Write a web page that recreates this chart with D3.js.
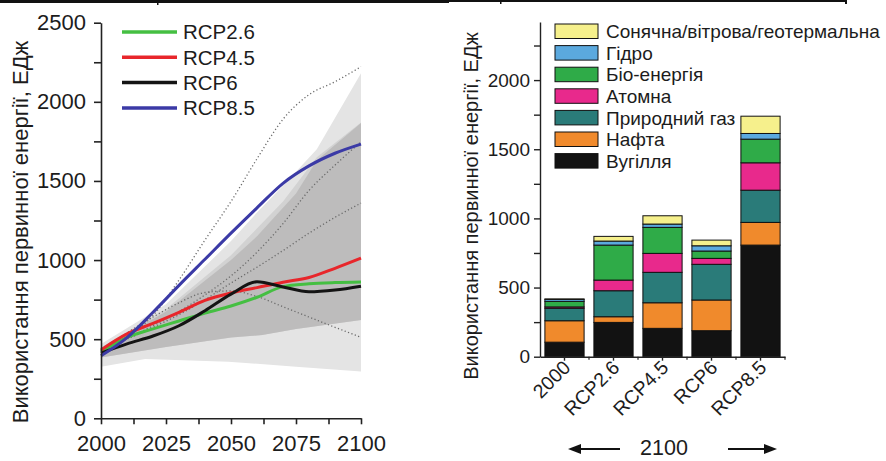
<!DOCTYPE html>
<html>
<head>
<meta charset="utf-8">
<script src="https://cdn.jsdelivr.net/npm/d3@7/dist/d3.min.js"></script>
<style>
  html, body { margin: 0; padding: 0; background: #ffffff; }
  svg { display: block; }
  text { font-family: "Liberation Sans", Arial, Helvetica, sans-serif; fill: #1c1c1c; }
</style>
</head>
<body>
<svg id="chart" width="886" height="461"></svg>
<script>
// ---------- Data: left panel (primary energy, EJ) ----------
const years = [2000, 2010, 2020, 2030, 2040, 2050, 2060, 2070, 2080, 2090, 2100];
const rcp26 = [420, 512, 565, 615, 665, 710, 765, 832, 850, 858, 862];
const rcp45 = [432, 533, 600, 670, 745, 792, 826, 860, 890, 948, 1012];
const rcp6  = [412, 470, 520, 585, 680, 785, 863, 830, 800, 811, 835];
const rcp85 = [395, 510, 670, 840, 1005, 1170, 1330, 1485, 1595, 1675, 1733];
const scenarioNames = ["RCP2.6", "RCP4.5", "RCP6", "RCP8.5"];
const scenarioColors = ["#45bf42", "#e8262b", "#141414", "#3b3aa6"];

// shaded ranges (year, value)
const lightUpperYears = [2000, 2025, 2050, 2060, 2070, 2083, 2100];
const lightUpper      = [470, 720, 1120, 1300, 1470, 1700, 2180];
const lightLowerYears = [2000, 2017, 2049, 2075, 2100];
const lightLower      = [326, 375, 358, 326, 295];
const midUpperYears   = [2000, 2025, 2050, 2070, 2083, 2100];
const midUpper        = [448, 690, 1030, 1370, 1650, 1870];
const darkUpperYears  = [2000, 2025, 2050, 2060, 2075, 2083, 2100];
const darkUpper       = [440, 675, 1000, 1150, 1420, 1630, 1866];
const darkLowerYears  = [2000, 2025, 2050, 2062, 2075, 2100];
const darkLower       = [385, 450, 510, 526, 565, 621];

// dotted reference pathways
const dotYears = [2000, 2010, 2020, 2030, 2040, 2050, 2060, 2070, 2080, 2090, 2100];
const dotted1 = [445, 516, 650, 874, 1127, 1370, 1640, 1890, 2045, 2127, 2222];
const dotted2 = [430, 505, 585, 675, 780, 900, 1050, 1230, 1440, 1600, 1748];
const dotted3 = [430, 500, 575, 655, 750, 855, 955, 1060, 1170, 1270, 1360];
const dotted4 = [430, 540, 640, 730, 795, 805, 770, 705, 640, 575, 512];

const leftXTicks = [2000, 2012.5, 2025, 2037.5, 2050, 2062.5, 2075, 2087.5, 2100];
const leftYTicks = [0, 250, 500, 750, 1000, 1250, 1500, 1750, 2000, 2250, 2500];

// ---------- Data: right panel (stacked bars) ----------
const barCategories = ["2000", "RCP2.6", "RCP4.5", "RCP6", "RCP8.5"];
const sourceNames = ["Вугілля", "Нафта", "Природний газ", "Атомна", "Біо-енергія", "Гідро", "Сонячна/вітрова/геотермальна"];
const sourceColors = ["#121212", "#f08a2c", "#2a7b79", "#e8298c", "#2fab48", "#5ba9de", "#f6f08c"];
const coal     = [105, 248, 205, 188, 807];
const oil      = [155, 41, 185, 222, 164];
const gas      = [90, 188, 220, 258, 233];
const nuclear  = [10, 77, 137, 43, 198];
const bio      = [40, 253, 188, 53, 171];
const hydro    = [14, 29, 24, 38, 41];
const solar    = [4, 34, 60, 41, 125];
const rightYTicks = [0, 250, 500, 750, 1000, 1250, 1500, 1750, 2000, 2250];

const yTitle = "Використання первинної енергії, ЕДж";

const svg = d3.select("#chart");

// ---------- border lines at top ----------
const border = svg.append("g").attr("fill", "#111");
border.append("rect").attr("x", 0).attr("y", 0).attr("width", 449).attr("height", 3);
border.append("rect").attr("x", 449).attr("y", 0).attr("width", 398).attr("height", 2);
border.append("rect").attr("x", 845).attr("y", 0).attr("width", 2).attr("height", 4);
border.append("rect").attr("x", 157).attr("y", 0).attr("width", 1.5).attr("height", 5);
border.append("rect").attr("x", 500).attr("y", 0).attr("width", 1.5).attr("height", 4);

// ================= LEFT PANEL =================
const xL = d3.scaleLinear().domain([2000, 2100]).range([101, 361]);
const yL = d3.scaleLinear().domain([0, 2500]).range([418.3, 22.7]);

function band(upYears, up, loYears, lo) {
  const pts = upYears.map((yr, i) => [xL(yr), yL(up[i])]);
  const low = loYears.map((yr, i) => [xL(yr), yL(lo[i])]).reverse();
  return d3.line()(pts.concat(low)) + "Z";
}
const left = svg.append("g");
left.append("path").attr("d", band(lightUpperYears, lightUpper, lightLowerYears, lightLower)).attr("fill", "#e4e4e4");
left.append("path").attr("d", band(midUpperYears, midUpper, darkLowerYears, darkLower)).attr("fill", "#d2d2d2");
left.append("path").attr("d", band(darkUpperYears, darkUpper, darkLowerYears, darkLower)).attr("fill", "#bdbcbc");

const lineGen = d3.line().x((d, i) => xL(years[i])).y(d => yL(d)).curve(d3.curveMonotoneX);
const dotGen = d3.line().x((d, i) => xL(dotYears[i])).y(d => yL(d)).curve(d3.curveMonotoneX);
[dotted1, dotted2, dotted3, dotted4].forEach(s => {
  left.append("path").attr("d", dotGen(s)).attr("fill", "none")
    .attr("stroke", "#6a6a6a").attr("stroke-width", 1.3).attr("stroke-dasharray", "1.2,2.4");
});

[rcp26, rcp45, rcp6, rcp85].forEach((s, k) => {
  left.append("path").attr("d", lineGen(s)).attr("fill", "none")
    .attr("stroke", scenarioColors[k]).attr("stroke-width", 3).attr("stroke-linejoin", "round");
});

// axes
const axBL = left.append("g").attr("transform", `translate(0,${yL(0)})`)
  .call(d3.axisBottom(xL).tickValues(leftXTicks).tickSize(6).tickSizeOuter(0)
    .tickFormat(d => (d % 25 === 0 ? d : "")));
const axLL = left.append("g").attr("transform", `translate(${xL(2000)},0)`)
  .call(d3.axisLeft(yL).tickValues(leftYTicks).tickSize(7).tickSizeOuter(0).tickPadding(8)
    .tickFormat(d => (d % 500 === 0 ? d : "")));
[axBL, axLL].forEach(a => {
  a.selectAll("path, line").attr("stroke", "#222").attr("stroke-width", 1.6);
  a.selectAll("text").style("font-size", "22px").attr("fill", "#1c1c1c");
});
axBL.selectAll("text").attr("dy", "1.1em");

left.append("text").attr("transform", "translate(20,232) rotate(-90)")
  .attr("text-anchor", "middle").attr("dy", "0.35em").style("font-size", "22px").text(yTitle);

// legend
const legL = left.append("g");
scenarioNames.forEach((n, i) => {
  const yy = 32 + i * 25.3;
  legL.append("line").attr("x1", 122).attr("x2", 177).attr("y1", yy).attr("y2", yy)
    .attr("stroke", scenarioColors[i]).attr("stroke-width", 3.5);
  legL.append("text").attr("x", 183).attr("y", yy).attr("dy", "0.36em")
    .style("font-size", "20.5px").text(n);
});

// ================= RIGHT PANEL =================
const xR = d3.scaleBand().domain(barCategories).range([540, 785]).paddingInner(0.2).paddingOuter(0.1);
const yR = d3.scaleLinear().domain([0, 2420]).range([356.7, 22]);

const seriesArrays = [coal, oil, gas, nuclear, bio, hydro, solar];
const table = barCategories.map((c, i) => {
  const o = { cat: c };
  sourceNames.forEach((s, k) => { o[s] = seriesArrays[k][i]; });
  return o;
});
const stacked = d3.stack().keys(sourceNames)(table);

const right = svg.append("g");
stacked.forEach((layer, k) => {
  right.append("g").attr("fill", sourceColors[k])
    .selectAll("rect").data(layer).join("rect")
    .attr("x", d => xR(d.data.cat))
    .attr("width", xR.bandwidth())
    .attr("y", d => yR(d[1]))
    .attr("height", d => yR(d[0]) - yR(d[1]))
    .attr("stroke", "#111").attr("stroke-width", 1);
});

const axBR = right.append("g").attr("transform", `translate(0,${yR(0)})`)
  .call(d3.axisBottom(xR).tickSize(4).tickSizeOuter(0).tickPadding(2));
axBR.selectAll("path, line").attr("stroke", "#222").attr("stroke-width", 1.4);
axBR.selectAll("text").style("font-size", "19.5px").attr("fill", "#1c1c1c")
  .attr("text-anchor", "end").attr("dy", "0.35em")
  .attr("transform", "translate(-2,3) rotate(-45)");
// minor ticks between bars
const gap = xR.step() - xR.bandwidth();
barCategories.forEach(c => {
  const xm = xR(c) + xR.bandwidth() + gap / 2;
  right.append("line").attr("x1", xm).attr("x2", xm).attr("y1", yR(0)).attr("y2", yR(0) + 3)
    .attr("stroke", "#222").attr("stroke-width", 1.2);
});

const axLR = right.append("g").attr("transform", `translate(540,0)`)
  .call(d3.axisLeft(yR).tickValues(rightYTicks).tickSize(6).tickSizeOuter(0).tickPadding(4)
    .tickFormat(d => (d % 500 === 0 ? d : "")));
axLR.selectAll("path, line").attr("stroke", "#222").attr("stroke-width", 1.4);
axLR.selectAll("text").style("font-size", "19px").attr("fill", "#1c1c1c");

right.append("text").attr("transform", "translate(471,206) rotate(-90)")
  .attr("text-anchor", "middle").attr("dy", "0.35em").style("font-size", "20px").text(yTitle);

// legend
const legR = right.append("g");
const legOrder = sourceNames.map((n, k) => k).reverse();
legOrder.forEach((k, i) => {
  const yy = 24 + i * 21.6;
  legR.append("rect").attr("x", 555).attr("y", yy).attr("width", 43).attr("height", 14.5)
    .attr("fill", sourceColors[k]).attr("stroke", "#111").attr("stroke-width", 1);
  legR.append("text").attr("x", 606).attr("y", yy + 7.3).attr("dy", "0.36em")
    .style("font-size", "19px").text(sourceNames[k]);
});

// 2100 label with arrows
const arr = right.append("g");
arr.append("text").attr("x", 664).attr("y", 447).attr("dy", "0.36em")
  .attr("text-anchor", "middle").style("font-size", "21.5px").text("2100");
arr.append("line").attr("x1", 578).attr("x2", 620).attr("y1", 449).attr("y2", 449)
  .attr("stroke", "#111").attr("stroke-width", 2);
arr.append("path").attr("d", "M568,449 L581,444 L581,454 Z").attr("fill", "#111");
arr.append("line").attr("x1", 728).attr("x2", 767).attr("y1", 449).attr("y2", 449)
  .attr("stroke", "#111").attr("stroke-width", 2);
arr.append("path").attr("d", "M777,449 L764,444 L764,454 Z").attr("fill", "#111");
</script>
</body>
</html>
